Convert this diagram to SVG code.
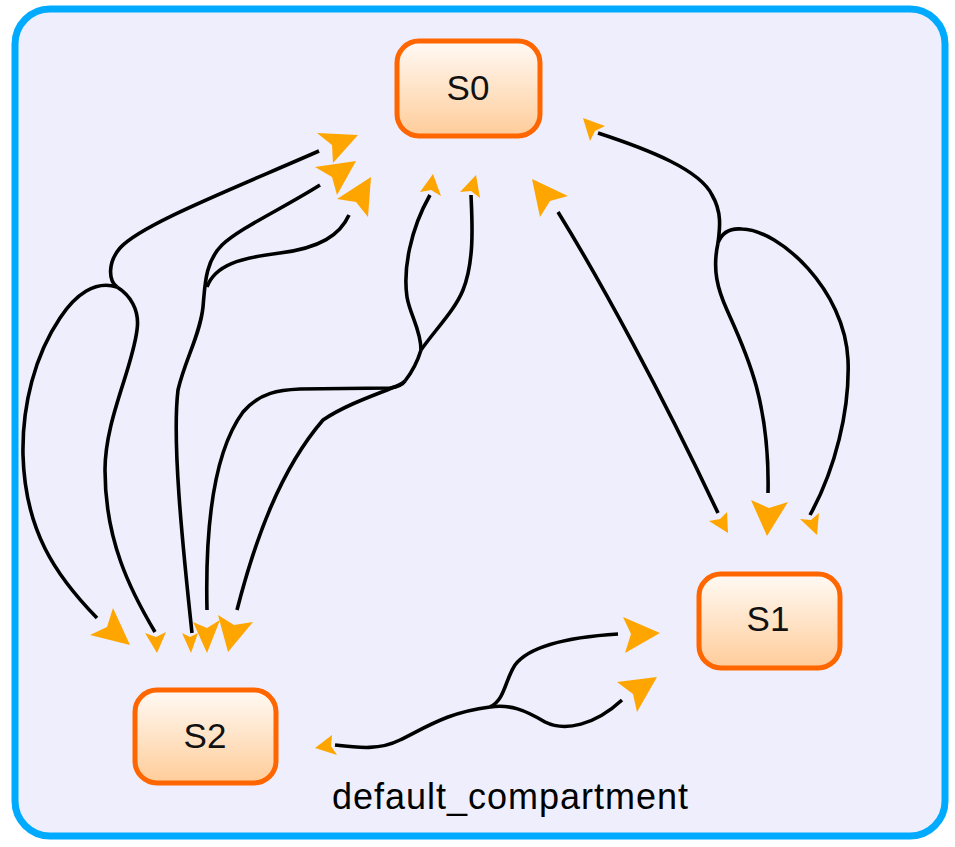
<svg xmlns="http://www.w3.org/2000/svg" width="955" height="847" viewBox="0 0 955 847">
<defs>
<linearGradient id="nodeGrad" x1="0" y1="0" x2="0" y2="1">
<stop offset="0" stop-color="#fffaf5"/>
<stop offset="1" stop-color="#ffcc99"/>
</linearGradient>
<style>
.comp{fill:#eeeefc;stroke:#00aaff;stroke-width:7}
.node rect{fill:url(#nodeGrad);stroke:#ff6600;stroke-width:5}
.node text{font-family:"Liberation Sans",Arial,sans-serif;font-size:35px;fill:#111;text-anchor:middle}
.edge{fill:none;stroke:#000;stroke-width:3.6;stroke-linecap:butt}
.head{fill:#ffa500;stroke:none}
.label{font-family:"Liberation Sans",Arial,sans-serif;font-size:36px;fill:#000;text-anchor:middle}
</style>
</defs>
<rect width="955" height="847" fill="#ffffff"/>
<g id="default_compartment">
<rect class="comp" x="15" y="9" width="930" height="827" rx="35" ry="35"/>
<text class="label" x="510" y="809" textLength="356" lengthAdjust="spacing">default_compartment</text>
</g>
<g id="connectors">
<path class="edge" d="M319,151 C230,190 140,225 120,248 C108,262 108,280 117,287"/>
<path class="edge" d="M117,287 C95,280 75,295 60,318 C35,355 22,405 23,455 C25,530 55,575 97,618"/>
<path class="edge" d="M117,287 C130,295 140,310 137,330 C132,370 105,420 105,470 C105,540 130,590 155,632"/>
<path class="edge" d="M320,185 C280,210 240,228 222,245 C205,262 205,285 203,307 C200,335 185,360 178,390 C172,440 182,540 192,633"/>
<path class="edge" d="M349,215 C340,235 320,248 280,253 C240,258 215,265 207,287"/>
<path class="edge" d="M207,610 C205,520 215,450 243,412 C260,392 280,390 300,389 L390,388 C398,387 403,384 405,381"/>
<path class="edge" d="M237,610 C255,540 280,470 323,420 C345,405 375,395 397,386 C402,384 404,382 405,381"/>
<path class="edge" d="M405,381 C412,372 418,360 421,350"/>
<path class="edge" d="M421,350 C421,330 410,315 407,297 C403,270 410,230 430,195"/>
<path class="edge" d="M421,350 C435,330 455,310 463,290 C475,260 472,220 471,195"/>
<path class="edge" d="M598,133 C650,150 700,170 712,195 C722,212 720,228 718,243"/>
<path class="edge" d="M718,243 C712,270 718,290 727,310 C745,350 770,400 768,493"/>
<path class="edge" d="M718,243 C722,232 730,228 742,229 C780,230 845,290 848,360 C850,410 835,470 810,515"/>
<path class="edge" d="M558,212 C600,280 660,390 718,513"/>
<path class="edge" d="M335,745 C360,748 380,750 400,740 C430,725 450,712 490,707"/>
<path class="edge" d="M490,707 C505,700 505,680 515,665 C530,645 570,637 618,634"/>
<path class="edge" d="M490,707 C510,704 525,710 545,722 C565,732 595,725 622,700"/>
<polygon class="head" points="358,135 317,133 332,145 333,163"/>
<polygon class="head" points="356,161 315,167 332,177 337,195"/>
<polygon class="head" points="371,177 337,199 356,202 368,217"/>
<polygon class="head" points="433,174 420,192 431,190 441,196"/>
<polygon class="head" points="476,175 460,192 471,191 480,198"/>
<polygon class="head" points="532,179 568,196 550,201 540,217"/>
<polygon class="head" points="583,118 605,126 595,131 590,141"/>
<polygon class="head" points="130,645 113,608 107,627 90,635"/>
<polygon class="head" points="157,653 145,633 156,637 166,632"/>
<polygon class="head" points="191,653 182,633 190,637 198,633"/>
<polygon class="head" points="207,653 193,622 207,628 220,620"/>
<polygon class="head" points="228,652 218,615 234,625 253,622"/>
<polygon class="head" points="728,533 709,521 720,519 727,512"/>
<polygon class="head" points="767,536 751,500 769,508 788,502"/>
<polygon class="head" points="817,535 800,519 811,520 819,513"/>
<polygon class="head" points="660,633 623,617 631,634 625,653"/>
<polygon class="head" points="657,677 617,682 633,694 637,712"/>
<polygon class="head" points="315,748 332,735 331,746 337,755"/>
</g>
<g id="S0" class="node">
<rect x="397" y="41" width="143" height="95" rx="22" ry="22"/>
<text x="468" y="100">S0</text>
</g>
<g id="S1" class="node">
<rect x="699" y="574" width="141" height="94" rx="22" ry="22"/>
<text x="768" y="631">S1</text>
</g>
<g id="S2" class="node">
<rect x="135" y="690" width="141" height="93" rx="22" ry="22"/>
<text x="205" y="748">S2</text>
</g>
</svg>
